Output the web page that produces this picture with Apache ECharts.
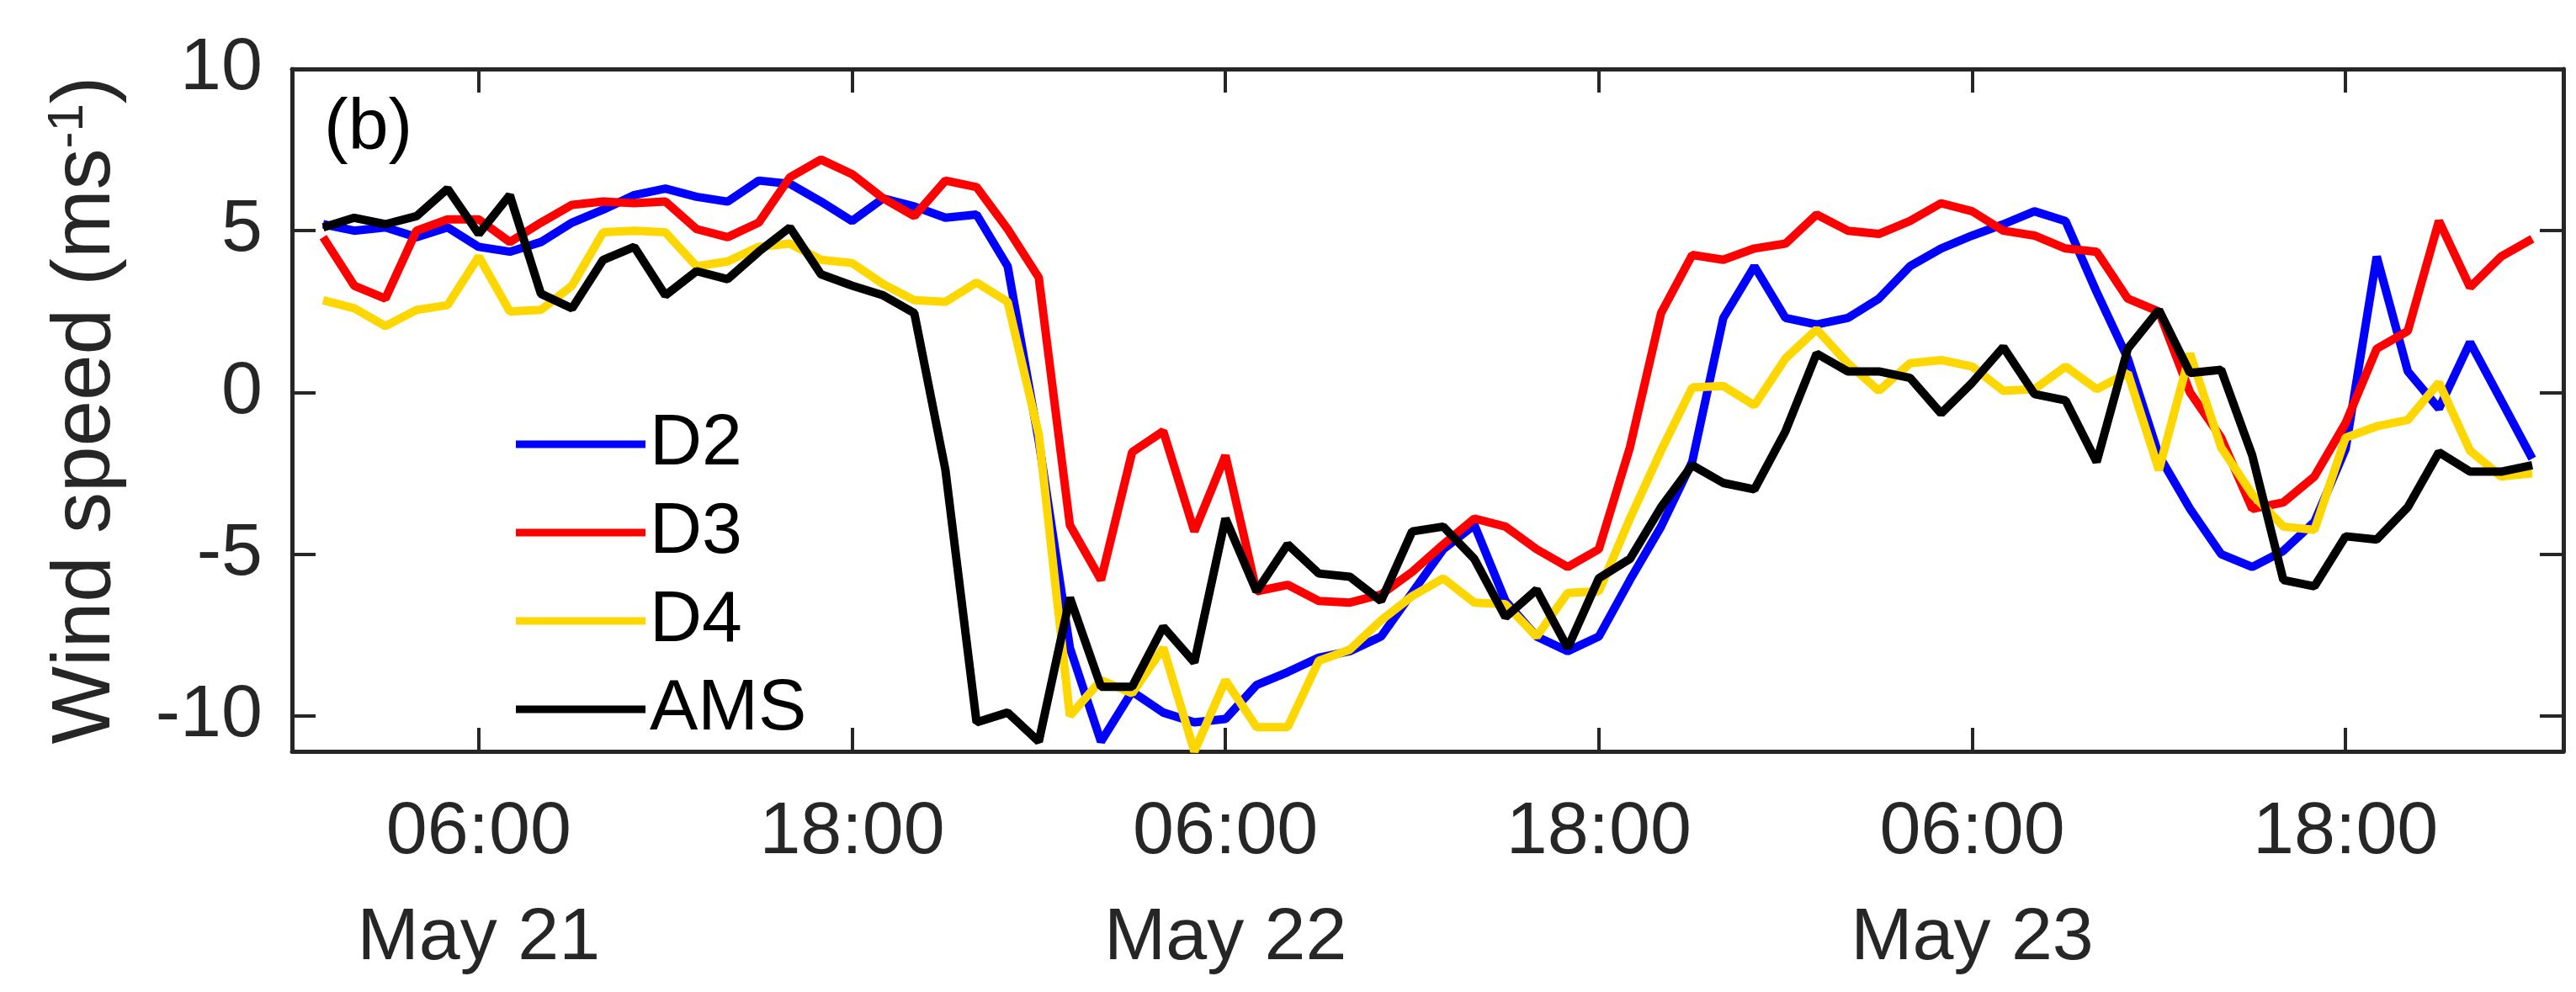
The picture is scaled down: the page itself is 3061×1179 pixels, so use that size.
<!DOCTYPE html>
<html><head><meta charset="utf-8">
<script src="https://cdn.jsdelivr.net/npm/echarts@6/dist/echarts.min.js"></script>
<style>html,body{margin:0;padding:0;background:#fff}#c{width:3061px;height:1179px}</style>
</head><body><div id="c"></div>
<script>
// hours since May 21 00:00, hourly from 01:00
const hours = Array.from({length:72},(_,i)=>i+1);
const D2 = [5.2,5.0,5.1,4.8,5.1,4.5,4.35,4.65,5.25,5.65,6.1,6.3,6.05,5.9,6.55,6.45,5.9,5.3,
 6.0,5.75,5.4,5.5,3.9,-1.5,-7.9,-10.8,-9.25,-9.9,-10.2,-10.1,-9.05,-8.65,-8.2,-8.0,-7.55,-6.2,-4.85,
 -4.1,-6.45,-7.55,-8.0,-7.55,-5.8,-4.15,-2.15,2.3,3.9,2.3,2.1,2.3,2.9,3.9,4.45,4.85,5.2,
 5.6,5.3,3.1,1.05,-1.95,-3.6,-5.0,-5.4,-4.9,-4.0,-1.75,4.2,0.65,-0.5,1.55,-0.25,-2.05];
const D3 = [4.8,3.3,2.9,5.0,5.35,5.35,4.65,5.25,5.8,5.9,5.85,5.9,5.05,4.8,5.25,6.65,7.2,6.75,
 6.0,5.45,6.55,6.35,5.05,3.55,-4.1,-5.8,-1.85,-1.2,-4.3,-1.95,-6.15,-5.95,-6.45,-6.5,-6.25,-5.55,-4.7,
 -3.9,-4.15,-4.85,-5.4,-4.85,-1.7,2.45,4.25,4.1,4.45,4.6,5.5,5.0,4.9,5.3,5.85,5.6,5.0,
 4.85,4.45,4.35,2.9,2.5,0,-1.4,-3.6,-3.4,-2.6,-0.95,1.35,1.9,5.3,3.25,4.2,4.75];
const D4 = [2.85,2.6,2.05,2.55,2.7,4.2,2.5,2.55,3.3,4.95,5.0,4.95,3.9,4.05,4.5,4.6,4.1,4.0,
 3.35,2.85,2.8,3.4,2.8,-1.3,-10.0,-8.9,-9.3,-7.9,-11.1,-8.9,-10.35,-10.35,-8.3,-7.95,-7.05,-6.3,-5.75,
 -6.5,-6.55,-7.55,-6.2,-6.15,-3.9,-1.8,0.15,0.2,-0.4,1.05,1.95,0.9,0.05,0.9,1.0,0.8,0.05,
 0.1,0.8,0.1,0.6,-2.4,1.2,-1.7,-3.15,-4.15,-4.25,-1.4,-1.05,-0.85,0.3,-1.8,-2.6,-2.5];
const AMS = [5.1,5.4,5.2,5.45,6.3,4.9,6.1,3.05,2.6,4.1,4.5,3.0,3.75,3.5,4.35,5.1,3.65,3.3,
 3.0,2.45,-2.4,-10.2,-9.9,-10.8,-6.35,-9.1,-9.1,-7.25,-8.35,-3.9,-6.15,-4.7,-5.6,-5.7,-6.45,-4.3,-4.15,
 -5.15,-6.95,-6.1,-7.9,-5.75,-5.15,-3.55,-2.25,-2.8,-3.0,-1.2,1.2,0.65,0.65,0.45,-0.65,0.3,1.4,
 -0.05,-0.25,-2.15,1.35,2.55,0.6,0.7,-1.95,-5.8,-6.0,-4.45,-4.55,-3.55,-1.85,-2.45,-2.45,-2.25];
const xTicks = [6,18,30,42,54,66];
const yTicks = [-10,-5,0,5,10];
const dayNames = ['May 21','May 22','May 23'];

const font = 'Liberation Sans, Arial, sans-serif';
const ax = '#262626';
function pairs(a){return hours.map((h,i)=>[h,a[i]]);}
const chart = echarts.init(document.getElementById('c'));
const tick = {inside:true,length:28,lineStyle:{color:ax,width:4}};
const line = {show:true,onZero:false,lineStyle:{color:ax,width:5}};
chart.setOption({
  animation:false,
  grid:{left:347,right:15,top:82,bottom:274},
  xAxis:[{type:'value',min:0,max:73,position:'bottom',
    axisLine:line,splitLine:{show:false},
    axisTick:Object.assign({customValues:xTicks},tick),
    axisLabel:{customValues:xTicks,margin:34,fontFamily:font,fontSize:88,color:ax,lineHeight:126,
      formatter:v=>{const h=v%24;const d=Math.floor(v/24);return h===6?('06:00\n'+dayNames[d]):'18:00';}}},
    {type:'value',min:0,max:73,position:'top',axisLine:line,splitLine:{show:false},
    axisTick:Object.assign({customValues:xTicks},tick),axisLabel:{show:false}}],
  yAxis:[{type:'value',min:-11.1,max:10,position:'left',
    axisLine:line,splitLine:{show:false},
    axisTick:Object.assign({customValues:yTicks},tick),
    axisLabel:{customValues:yTicks,margin:35,fontFamily:font,fontSize:88,color:ax},
    name:'{a|Wind speed (ms}{s|-1}{a|)}',nameLocation:'middle',nameGap:192,nameRotate:90,
    nameTextStyle:{rich:{a:{fontFamily:font,fontSize:98,color:ax},s:{fontFamily:font,fontSize:60,color:ax,padding:[0,0,44,0]}}}},
    {type:'value',min:-11.1,max:10,position:'right',axisLine:line,splitLine:{show:false},
    axisTick:Object.assign({customValues:yTicks},tick),axisLabel:{show:false}}],
  legend:{orient:'vertical',left:608,top:480,itemWidth:154,itemHeight:9,itemGap:19,icon:'rect',
    textStyle:{fontFamily:font,fontSize:86,color:'#000',padding:[0,0,0,0]},
    data:['D2','D3','D4','AMS']},
  graphic:[{type:'text',left:385,top:110,style:{text:'(b)',fontFamily:font,fontSize:86,fill:'#000'}}],
  series:[
    {name:'D2',type:'line',data:pairs(D2),showSymbol:false,lineStyle:{color:'#0000ff',width:10},itemStyle:{color:'#0000ff'}},
    {name:'D3',type:'line',data:pairs(D3),showSymbol:false,lineStyle:{color:'#ff0000',width:10},itemStyle:{color:'#ff0000'}},
    {name:'D4',type:'line',data:pairs(D4),showSymbol:false,lineStyle:{color:'#ffd700',width:10},itemStyle:{color:'#ffd700'}},
    {name:'AMS',type:'line',data:pairs(AMS),showSymbol:false,lineStyle:{color:'#000000',width:10},itemStyle:{color:'#000000'}}
  ]
});
</script></body></html>
